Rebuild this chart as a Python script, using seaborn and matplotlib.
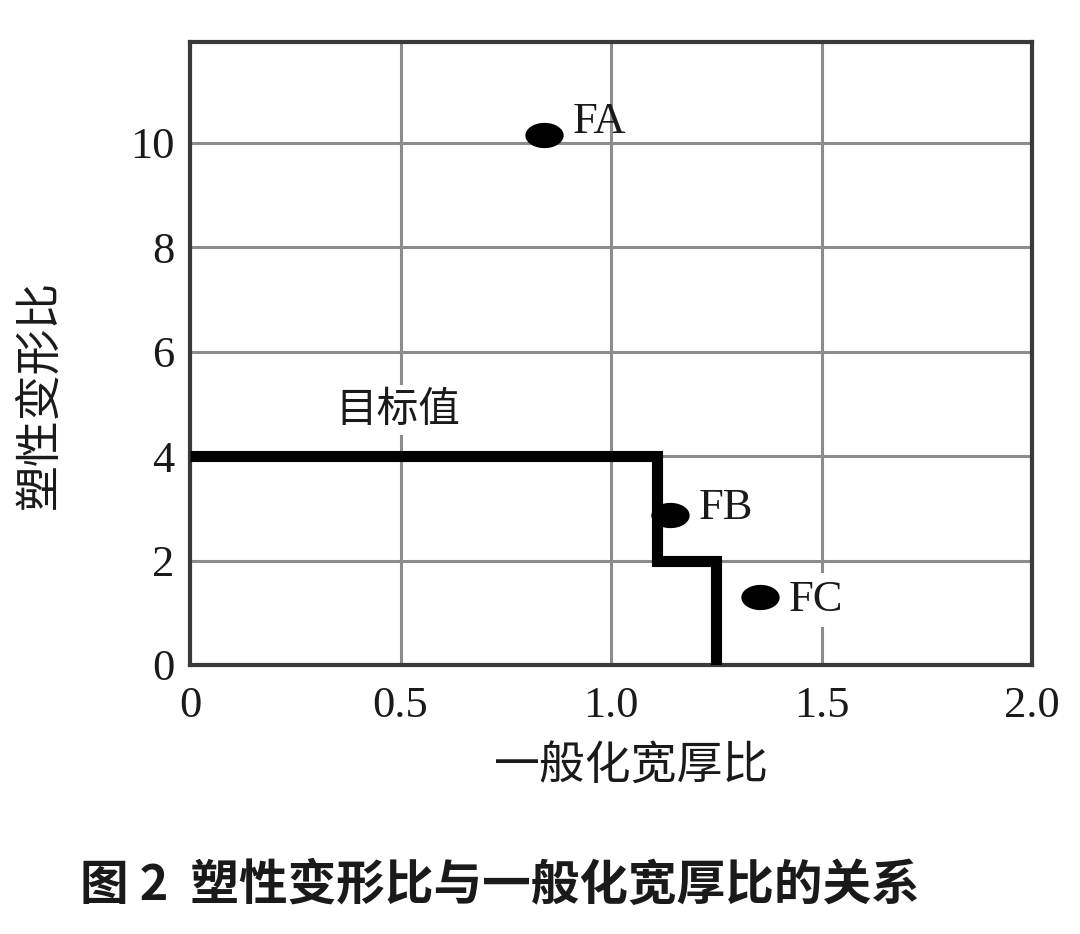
import numpy as np
import pandas as pd
import matplotlib
matplotlib.use("Agg")
import matplotlib.pyplot as plt
from matplotlib.path import Path
import seaborn as sns

# ---- data ----
point_names = ["FA", "FB", "FC"]
point_x = [0.84, 1.14, 1.355]
point_y = [10.15, 2.87, 1.30]

target_x = [0.0, 1.11, 1.11, 1.25, 1.25]
target_y = [4.0, 4.0, 2.0, 2.0, 0.0]
target_label = "目标值"
target_label_pos = (0.345, 4.88)

x_ticks = [0.0, 0.5, 1.0, 1.5, 2.0]
x_ticklabels = ["0", "0.5", "1.0", "1.5", "2.0"]
y_ticks = [0, 2, 4, 6, 8, 10]
y_ticklabels = ["0", "2", "4", "6", "8", "10"]

x_label = "一般化宽厚比"
y_label = "塑性变形比"
caption = "图 2  塑性变形比与一般化宽厚比的关系"

# ---- style ----
sns.set_theme(style="whitegrid")
plt.rcParams["font.family"] = ["Noto Sans CJK SC", "DejaVu Sans"]
serif = ["Liberation Serif", "DejaVu Serif"]

fig = plt.figure(figsize=(10.8, 9.34), dpi=100)
fig.patch.set_facecolor("white")
ax = fig.add_axes([190 / 1080, 1 - 665 / 934, 842 / 1080, 623 / 934])
ax.set_facecolor("white")

# step boundary line
line_df = pd.DataFrame({"x": target_x, "y": target_y})
sns.lineplot(data=line_df, x="x", y="y", sort=False, estimator=None,
             color="black", linewidth=8, ax=ax, zorder=3,
             solid_joinstyle="miter", solid_capstyle="butt")

# ellipse marker
t = np.linspace(0, 2 * np.pi, 80)
ellipse = Path(np.column_stack([np.cos(t), 0.66 * np.sin(t)]), closed=True)
pts_df = pd.DataFrame({"x": point_x, "y": point_y, "name": point_names})
sns.scatterplot(data=pts_df, x="x", y="y", marker=ellipse, s=760,
                color="black", edgecolor="black", linewidth=0, ax=ax, zorder=4)

offsets = {"FA": (21, 9), "FB": (21, 5), "FC": (20, -2)}
for nm, xv, yv in zip(point_names, point_x, point_y):
    kw = {}
    if nm == "FC":
        kw["bbox"] = dict(boxstyle="square,pad=0.15", fc="white", ec="none")
    ax.annotate(nm, xy=(xv, yv), xytext=offsets[nm], textcoords="offset points",
                ha="left", va="center", fontsize=32, family=serif,
                color="#1a1a1a", zorder=5, **kw)

ax.text(target_label_pos[0], target_label_pos[1], target_label, ha="left",
        va="center", fontsize=30, color="#1a1a1a", zorder=2,
        bbox=dict(boxstyle="square,pad=0.1", fc="white", ec="none"))

# axes
ax.set_xlim(0, 2.0)
ax.set_ylim(0, 11.93)
ax.set_xticks(x_ticks)
ax.set_xticklabels(x_ticklabels, family=serif, fontsize=32, color="#1a1a1a")
ax.set_yticks(y_ticks)
ax.set_yticklabels(y_ticklabels, family=serif, fontsize=32, color="#1a1a1a")
ax.tick_params(axis="both", length=0)
ax.tick_params(axis="x", pad=15)
ax.tick_params(axis="y", pad=11)
ax.grid(True, color="#8c8c8c", linewidth=2.2)
ax.set_axisbelow(True)
for sp in ax.spines.values():
    sp.set_visible(True)
    sp.set_color("#3a3a3a")
    sp.set_linewidth(3)

ax.set_xlabel(x_label, fontsize=33, color="#1a1a1a")
ax.set_ylabel(y_label, fontsize=33, color="#1a1a1a")
ax.xaxis.set_label_coords(0.525, -0.122)
ax.yaxis.set_label_coords(-0.15, 0.435)

fig.text(80 / 1080, 1 - 885 / 934, caption, ha="left", va="center",
         fontsize=35, fontweight="bold", color="#1a1a1a")

fig.savefig("out.png", dpi=100, facecolor="white")
